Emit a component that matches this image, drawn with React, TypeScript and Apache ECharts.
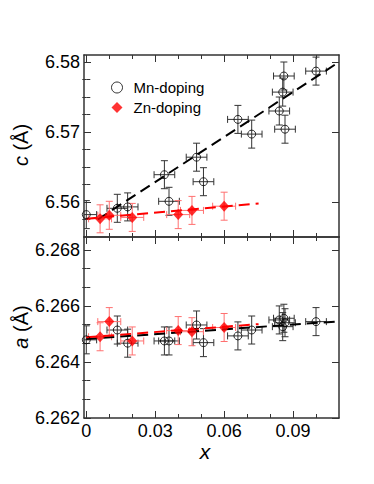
import React, { useEffect, useRef } from "react";
import * as echarts from "echarts";

// ---- data ----
const mnX = [0, 0.0135, 0.018, 0.034, 0.036, 0.048, 0.051, 0.066, 0.072, 0.084, 0.0855, 0.086, 0.0865, 0.1];
const mnC = [6.5582, 6.5591, 6.5593, 6.5639, 6.5601, 6.5664, 6.5629, 6.5718, 6.5697, 6.573, 6.5757, 6.578, 6.5704, 6.5787];
const mnA = [6.26479, 6.26514, 6.26467, 6.26475, 6.26475, 6.26532, 6.26469, 6.26493, 6.26514, 6.2655, 6.26526, 6.26556, 6.2654, 6.26544];
const mnXErr = 0.0045;
const mnCErr = 0.002;
const mnAErr = 0.0005;

const znX = [0.006, 0.01, 0.02, 0.04, 0.046, 0.06];
const znC = [6.5576, 6.5581, 6.5578, 6.5582, 6.5588, 6.5594];
const znA = [6.2649, 6.26544, 6.26475, 6.26512, 6.26508, 6.26523];
const znXErr = 0.005;
const znCErr = 0.002;
const znAErr = 0.0005;

// linear fits (end points)
const mnFitC = [[0.005, 6.5575], [0.11, 6.58]];
const znFitC = [[0, 6.5576], [0.075, 6.5598]];
const mnFitA = [[0, 6.26482], [0.11, 6.26545]];
const znFitA = [[0, 6.26488], [0.075, 6.26535]];

// axes
const X_MIN = -0.001;
const X_MAX = 0.11;
const X_MAJOR = [0, 0.03, 0.06, 0.09];
const X_MINOR = [0.01, 0.02, 0.04, 0.05, 0.07, 0.08, 0.1];
const C_MIN = 6.555;
const C_MAX = 6.581;
const C_MAJOR = [6.56, 6.57, 6.58];
const C_MINOR = [6.5575, 6.5625, 6.565, 6.5675, 6.5725, 6.575, 6.5775];
const A_MIN = 6.262;
const A_MAX = 6.26846;
const A_MAJOR = [6.262, 6.264, 6.266, 6.268];
const A_MINOR = [6.262667, 6.263333, 6.264667, 6.265333, 6.266667, 6.267333];

const FONT = "'Liberation Sans', Arial, Helvetica, sans-serif";
const AX = "#333";

function xAxes(gridIndex: number, showLabels: boolean) {
  const base = { type: "value", gridIndex, min: X_MIN, max: X_MAX, splitLine: { show: false } };
  const line = { show: true, onZero: false, lineStyle: { color: AX, width: 1.5 } };
  const major = { show: true, inside: true, length: 7, customValues: X_MAJOR, lineStyle: { color: AX, width: 1 } };
  const minor = { show: true, inside: true, length: 4, customValues: X_MINOR, lineStyle: { color: AX, width: 1 } };
  return [
    {
      ...base,
      position: "bottom",
      axisLine: line,
      axisTick: major,
      axisLabel: {
        show: showLabels,
        customValues: X_MAJOR,
        formatter: (v: number) => (v === 0 ? "0" : v.toFixed(2)),
        margin: 4,
        fontSize: 18,
        color: "#000",
        fontFamily: FONT,
      },
    },
    { ...base, position: "top", axisLine: line, axisTick: major, axisLabel: { show: false } },
    { ...base, position: "bottom", axisLine: { show: false }, axisTick: minor, axisLabel: { show: false } },
    { ...base, position: "top", axisLine: { show: false }, axisTick: minor, axisLabel: { show: false } },
  ];
}

function yAxes(gridIndex: number, min: number, max: number, majorV: number[], minorV: number[], digits: number) {
  const base = { type: "value", gridIndex, min, max, splitLine: { show: false } };
  const line = { show: true, onZero: false, lineStyle: { color: AX, width: 1.5 } };
  const major = { show: true, inside: true, length: 7, customValues: majorV, lineStyle: { color: AX, width: 1 } };
  const minor = { show: true, inside: true, length: 4, customValues: minorV, lineStyle: { color: AX, width: 1 } };
  return [
    {
      ...base,
      position: "left",
      axisLine: line,
      axisTick: major,
      axisLabel: {
        show: true,
        customValues: majorV,
        formatter: (v: number) => v.toFixed(digits),
        margin: 4,
        fontSize: 18,
        color: "#000",
        fontFamily: FONT,
      },
    },
    { ...base, position: "right", axisLine: line, axisTick: major, axisLabel: { show: false } },
    { ...base, position: "left", axisLine: { show: false }, axisTick: minor, axisLabel: { show: false } },
    { ...base, position: "right", axisLine: { show: false }, axisTick: minor, axisLabel: { show: false } },
  ];
}

function errRender(color: string) {
  return (_params: any, api: any) => {
    const x = api.value(0);
    const y = api.value(1);
    const xe = api.value(2);
    const ye = api.value(3);
    const c = api.coord([x, y]);
    const l = api.coord([x - xe, y]);
    const r = api.coord([x + xe, y]);
    const t = api.coord([x, y + ye]);
    const b = api.coord([x, y - ye]);
    const cap = 3.5;
    const style = { stroke: color, lineWidth: 1, fill: null };
    const ln = (x1: number, y1: number, x2: number, y2: number) => ({
      type: "line",
      shape: { x1, y1, x2, y2 },
      style,
    });
    return {
      type: "group",
      children: [
        ln(l[0], c[1], r[0], c[1]),
        ln(l[0], c[1] - cap, l[0], c[1] + cap),
        ln(r[0], c[1] - cap, r[0], c[1] + cap),
        ln(c[0], t[1], c[0], b[1]),
        ln(c[0] - cap, t[1], c[0] + cap, t[1]),
        ln(c[0] - cap, b[1], c[0] + cap, b[1]),
      ],
    };
  };
}

const GRID_LEFT = 84;
const GRID_WIDTH = 255;

export default function App() {
  const ref = useRef<HTMLDivElement>(null);
  useEffect(() => {
    if (!ref.current) return;
    const chart = echarts.init(ref.current, null, { renderer: "svg" });

    const mnCData = mnX.map((x, i) => [x, mnC[i]]);
    const mnAData = mnX.map((x, i) => [x, mnA[i]]);
    const znCData = znX.map((x, i) => [x, znC[i]]);
    const znAData = znX.map((x, i) => [x, znA[i]]);
    const mnCErrData = mnX.map((x, i) => [x, mnC[i], mnXErr, mnCErr]);
    const mnAErrData = mnX.map((x, i) => [x, mnA[i], mnXErr, mnAErr]);
    const znCErrData = znX.map((x, i) => [x, znC[i], znXErr, znCErr]);
    const znAErrData = znX.map((x, i) => [x, znA[i], znXErr, znAErr]);

    const errSeries = (data: number[][], axis: number, color: string) => ({
      type: "custom",
      xAxisIndex: axis,
      yAxisIndex: axis,
      data,
      encode: { x: 0, y: 1 },
      clip: true,
      silent: true,
      renderItem: errRender(color),
      z: 2,
    });
    const fitSeries = (data: number[][], axis: number, color: string, z: number) => ({
      type: "line",
      xAxisIndex: axis,
      yAxisIndex: axis,
      data,
      symbol: "none",
      silent: true,
      lineStyle: { color, width: 2, type: [11, 6] },
      z,
    });
    const mnStyle = { color: "transparent", borderColor: "#000", borderWidth: 1 };
    const znStyle = { color: "#ff0000" };

    const option: any = {
      animation: false,
      backgroundColor: "#fff",
      textStyle: { fontFamily: FONT },
      grid: [
        { left: GRID_LEFT, top: 55, width: GRID_WIDTH, height: 182, outerBoundsMode: "none", containLabel: false },
        { left: GRID_LEFT, top: 237, width: GRID_WIDTH, height: 181, outerBoundsMode: "none", containLabel: false },
      ],
      xAxis: [...xAxes(0, false), ...xAxes(1, true)],
      yAxis: [
        ...yAxes(0, C_MIN, C_MAX, C_MAJOR, C_MINOR, 2),
        ...yAxes(1, A_MIN, A_MAX, A_MAJOR, A_MINOR, 3),
      ],
      legend: {
        orient: "vertical",
        left: 106,
        top: 75,
        itemWidth: 11,
        itemHeight: 11,
        itemGap: 5,
        symbolKeepAspect: true,
        selectedMode: false,
        textStyle: { fontSize: 15, color: "#000", fontFamily: FONT, lineHeight: 15, padding: [0, 0, 0, 6] },
        data: [
          { name: "Mn-doping", icon: "circle", itemStyle: { color: "transparent", borderColor: "#000", borderWidth: 1 } },
          { name: "Zn-doping", icon: "diamond", itemStyle: { color: "#ff0000" } },
        ],
      },
      series: [
        errSeries(mnCErrData, 0, "#333"),
        errSeries(znCErrData, 0, "#ff7070"),
        errSeries(mnAErrData, 4, "#333"),
        errSeries(znAErrData, 4, "#ff7070"),
        fitSeries(mnFitC, 0, "#000", 3),
        fitSeries(znFitC, 0, "#ff0000", 3),
        fitSeries(mnFitA, 4, "#000", 3),
        fitSeries(znFitA, 4, "#ff0000", 4),
        {
          name: "Mn-doping",
          type: "scatter",
          xAxisIndex: 0,
          yAxisIndex: 0,
          data: mnCData,
          symbol: "circle",
          symbolSize: 8,
          itemStyle: mnStyle,
          z: 5,
        },
        {
          name: "Mn-doping",
          type: "scatter",
          xAxisIndex: 4,
          yAxisIndex: 4,
          data: mnAData,
          symbol: "circle",
          symbolSize: 8,
          itemStyle: mnStyle,
          z: 5,
        },
        {
          name: "Zn-doping",
          type: "scatter",
          xAxisIndex: 0,
          yAxisIndex: 0,
          data: znCData,
          symbol: "diamond",
          symbolSize: [10, 11],
          itemStyle: znStyle,
          z: 6,
        },
        {
          name: "Zn-doping",
          type: "scatter",
          xAxisIndex: 4,
          yAxisIndex: 4,
          data: znAData,
          symbol: "diamond",
          symbolSize: [10, 11],
          itemStyle: znStyle,
          z: 6,
        },
      ],
      graphic: [
        {
          type: "text",
          x: 21,
          y: 145,
          rotation: Math.PI / 2,
          style: {
            text: "{i|c} (Å)",
            fontSize: 20,
            fontFamily: FONT,
            fill: "#000",
            align: "center",
            verticalAlign: "middle",
            rich: { i: { fontStyle: "italic", fontSize: 20, fontFamily: FONT } },
          },
        },
        {
          type: "text",
          x: 21,
          y: 327,
          rotation: Math.PI / 2,
          style: {
            text: "{i|a} (Å)",
            fontSize: 20,
            fontFamily: FONT,
            fill: "#000",
            align: "center",
            verticalAlign: "middle",
            rich: { i: { fontStyle: "italic", fontSize: 20, fontFamily: FONT } },
          },
        },
        {
          type: "text",
          x: 205,
          y: 451,
          style: {
            text: "x",
            fontSize: 21,
            fontStyle: "italic",
            fontFamily: FONT,
            fill: "#000",
            align: "center",
            verticalAlign: "middle",
          },
        },
      ],
    };
    chart.setOption(option);
    return () => chart.dispose();
  }, []);
  return (
    <div
      ref={ref}
      style={{ position: "fixed", left: 0, top: 0, width: 374, height: 484 }}
    />
  );
}
